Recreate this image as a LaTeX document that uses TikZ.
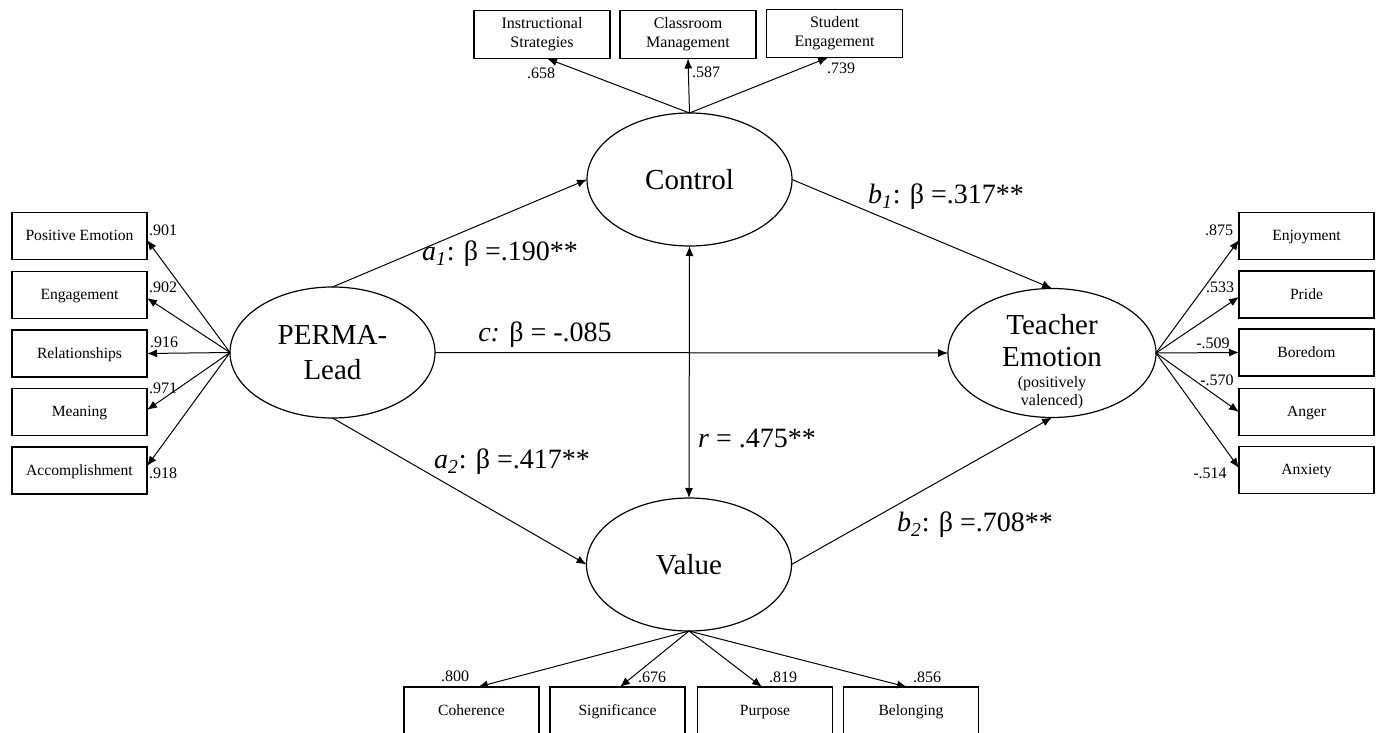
\documentclass[tikz,border=0pt]{standalone}
\usepackage{fontspec}
\setmainfont{Liberation Serif}
\usetikzlibrary{shapes.geometric,arrows.meta}
\begin{document}
\begin{tikzpicture}[x=0.5pt,y=-0.5pt,
  every node/.style={inner sep=0pt, outer sep=0pt},
  boxbase/.style={draw, line width=0.6pt, minimum width=67.5pt, minimum height=23.5pt, align=center},
  ind/.style={boxbase, font=\fontsize{7.8}{9}\selectfont, text height=0.7em, text depth=0.22em},
  topind/.style={boxbase, minimum width=68pt, minimum height=24pt, font=\fontsize{8}{9.5}\selectfont},
  latent/.style={draw, ellipse, line width=0.6pt, minimum width=102.5pt, minimum height=66.5pt, align=center, font=\fontsize{14.5}{17.5}\selectfont},
  coef/.style={font=\fontsize{8}{9}\selectfont},
  plabel/.style={font=\fontsize{14}{16}\selectfont},
  arr/.style={line width=0.5pt, -{Latex[length=5pt,width=4pt]}},
  dblarr/.style={line width=0.5pt, {Latex[length=5pt,width=4pt]}-{Latex[length=5pt,width=4pt]}},
]
\useasboundingbox (0,0) rectangle (1382,733);

% latent variables
\node[latent, minimum height=65.5pt] (perma) at (332.5,352.5) {PERMA-\\Lead};
\node[latent] (control) at (689.5,179.5) {Control};
\node[latent] (value) at (689,564.5) {Value};
\node[latent, minimum width=104pt, minimum height=64.5pt] (teacher) at (1052,353) {};
\node[font=\fontsize{14.5}{16}\selectfont, align=center] (tetext) at (1052,341) {Teacher\\Emotion};
\node[coef, align=center] (tesub) at (1052,393) {(positively\\valenced)};

% top indicators
\node[topind] (ins) at (542,34.5) {Instructional\\Strategies};
\node[topind] (cls) at (688,34.5) {Classroom\\Management};
\node[topind] (stu) at (834.5,33.5) {Student\\Engagement};

% left indicators
\node[ind] (pe)  at (79.5,236)   {Positive Emotion};
\node[ind] (eng) at (79.5,295)   {Engagement};
\node[ind] (rel) at (79.5,353.5) {Relationships};
\node[ind] (mea) at (79.5,412)   {Meaning};
\node[ind] (acc) at (79.5,470.5) {Accomplishment};

% right indicators
\node[ind] (enj) at (1306.5,236)   {Enjoyment};
\node[ind] (pri) at (1306.5,294.5) {Pride};
\node[ind] (bor) at (1306.5,352.5) {Boredom};
\node[ind] (ang) at (1306.5,412)   {Anger};
\node[ind] (anx) at (1306.5,470)   {Anxiety};

% bottom indicators
\node[ind, minimum height=24pt] (coh) at (471.5,711) {Coherence};
\node[ind, minimum height=24pt] (sig) at (617.5,711) {Significance};
\node[ind, minimum height=24pt] (pur) at (765,711)   {Purpose};
\node[ind, minimum height=24pt] (bel) at (911,711)   {Belonging};

% measurement arrows
\draw[arr] (control.north) -- ([xshift=2.5pt]ins.south);
\draw[arr] (control.north) -- (cls.south);
\draw[arr] (control.north) -- ([xshift=-3.2pt]stu.south);

\draw[arr] (perma.west) -- ([yshift=-2pt]pe.east);
\draw[arr] (perma.west) -- ([yshift=-1.5pt]eng.east);
\draw[arr] (perma.west) -- (rel.east);
\draw[arr] (perma.west) -- ([yshift=1pt]mea.east);
\draw[arr] (perma.west) -- ([yshift=2.2pt]acc.east);

\draw[arr] (teacher.east) -- ([yshift=-2pt]enj.west);
\draw[arr] (teacher.east) -- ([yshift=-1.2pt]pri.west);
\draw[arr] (teacher.east) -- (bor.west);
\draw[arr] (teacher.east) -- (ang.west);
\draw[arr] (teacher.east) -- ([yshift=1pt]anx.west);

\draw[arr] (value.south) -- ([xshift=3.2pt]coh.north);
\draw[arr] (value.south) -- ([xshift=1.2pt]sig.north);
\draw[arr] (value.south) -- ([xshift=-1.5pt]pur.north);
\draw[arr] (value.south) -- ([xshift=-2pt]bel.north);

% structural arrows
\draw[arr] (perma.north) -- (control.west);
\draw[arr] (perma.south) -- (value.west);
\draw[arr] (perma.east) -- (teacher.west);
\draw[arr] (control.east) -- (teacher.north);
\draw[arr] (value.east) -- (teacher.south);
\draw[dblarr] (control.south) -- (value.north);

% path labels
\node[plabel] (la1) at (500,254) {\textit{a}\textsubscript{\textit{1}}: β =.190**};
\node[plabel] (lb1) at (946,197) {\textit{b}\textsubscript{\textit{1}}: β =.317**};
\node[plabel] (lc)  at (545,335) {\textit{c:} β = -.085};
\node[plabel] (lr)  at (757,438) {\textit{r} = .475**};
\node[plabel] (la2) at (512,462) {\textit{a}\textsubscript{\textit{2}}: β =.417**};
\node[plabel] (lb2) at (975,525) {\textit{b}\textsubscript{\textit{2}}: β =.708**};

% loadings
\node[coef] (c1) at (541,73) {.658};
\node[coef] (c2) at (706,72) {.587};
\node[coef] (c3) at (841,68) {.739};

\node[coef] (c4) at (163,230) {.901};
\node[coef] (c5) at (163,287) {.902};
\node[coef] (c6) at (164,342) {.916};
\node[coef] (c7) at (163,388) {.971};
\node[coef] (c8) at (163,473) {.918};

\node[coef] (c9)  at (1219,230) {.875};
\node[coef] (c10) at (1220,287) {.533};
\node[coef] (c11) at (1213,343) {-.509};
\node[coef] (c12) at (1217,380) {-.570};
\node[coef] (c13) at (1210,473) {-.514};

\node[coef] (c14) at (455,676) {.800};
\node[coef] (c15) at (652,677) {.676};
\node[coef] (c16) at (783,677) {.819};
\node[coef] (c17) at (927,677) {.856};
\end{tikzpicture}
\end{document}
